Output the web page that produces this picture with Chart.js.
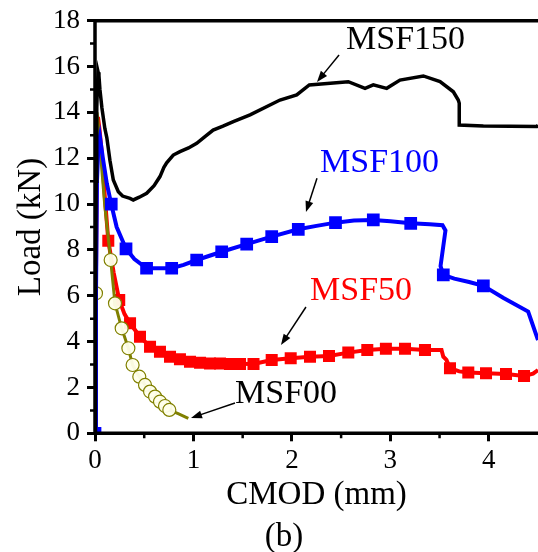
<!DOCTYPE html>
<html><head><meta charset="utf-8">
<script src="https://cdn.jsdelivr.net/npm/chart.js@4"></script>
<style>html,body{margin:0;padding:0;background:#fff;overflow:hidden;} #wrap{width:538px;height:552px;} canvas{display:block;}</style>
</head><body><div id="wrap"><canvas id="c" width="538" height="552"></canvas></div>
<script>
// ---- data ----
const xTicks = [0, 1, 2, 3, 4];
const yTicks = [0, 2, 4, 6, 8, 10, 12, 14, 16, 18];
const seriesNames = ['MSF150', 'MSF100', 'MSF50', 'MSF00'];

const msf150 = [[0,0],[0.005,5],[0.012,11],[0.018,14.2],[0.025,15.2],[0.032,15.75],[0.04,15.6],[0.05,15.0],[0.07,14.2],[0.1,13.3],[0.12,12.9],[0.152,11.9],[0.186,11.05],[0.237,10.54],[0.28,10.35],[0.356,10.25],[0.389,10.18],[0.45,10.3],[0.525,10.47],[0.6,10.8],[0.66,11.2],[0.7,11.6],[0.728,11.8],[0.795,12.14],[0.863,12.29],[0.95,12.45],[1.033,12.65],[1.12,12.95],[1.2,13.23],[1.3,13.4],[1.405,13.6],[1.575,13.89],[1.879,14.54],[2.049,14.76],[2.177,15.2],[2.573,15.34],[2.743,15.05],[2.827,15.2],[2.963,15.05],[3.098,15.41],[3.335,15.59],[3.505,15.34],[3.64,14.9],[3.69,14.54],[3.70,14.4],[3.70,13.45],[3.945,13.41],[4.487,13.38],[4.5,13.45]];

const msf100 = [[0,0],[0.01,6],[0.02,11],[0.035,12.6],[0.05,12.94],[0.08,12.0],[0.12,10.9],[0.165,10.0],[0.22,9.0],[0.27,8.5],[0.315,8.05],[0.4,7.6],[0.524,7.2],[0.65,7.2],[0.779,7.2],[0.9,7.35],[1.033,7.56],[1.287,7.92],[1.541,8.25],[1.795,8.58],[2.065,8.9],[2.25,9.05],[2.443,9.19],[2.63,9.28],[2.827,9.31],[3.0,9.25],[3.207,9.16],[3.4,9.12],[3.53,9.08],[3.56,8.85],[3.51,7.3],[3.538,6.91],[3.65,6.75],[3.8,6.6],[3.945,6.43],[4.15,5.9],[4.40,5.31],[4.5,4.07]];
const msf100Marks = [[0,0],[0.165,10.0],[0.315,8.05],[0.524,7.2],[0.779,7.2],[1.033,7.56],[1.287,7.92],[1.541,8.25],[1.795,8.58],[2.065,8.9],[2.443,9.19],[2.827,9.31],[3.207,9.16],[3.538,6.91],[3.945,6.43]];

const msf50 = [[0,0],[0.01,7],[0.02,12.5],[0.03,13.8],[0.045,13.3],[0.068,12.29],[0.1,10.3],[0.135,8.4],[0.19,7.0],[0.246,5.82],[0.3,5.2],[0.356,4.8],[0.457,4.21],[0.559,3.78],[0.66,3.56],[0.762,3.34],[0.863,3.23],[0.965,3.12],[1.2,3.05],[1.61,3.02],[1.795,3.2],[1.988,3.27],[2.184,3.34],[2.377,3.37],[2.573,3.52],[2.766,3.63],[2.955,3.69],[3.149,3.69],[3.352,3.63],[3.52,3.63],[3.538,3.34],[3.57,3.2],[3.606,2.84],[3.7,2.7],[3.792,2.65],[3.972,2.62],[4.175,2.59],[4.358,2.5],[4.45,2.6],[4.5,2.76]];
const msf50Marks = [[0.135,8.4],[0.246,5.82],[0.356,4.8],[0.457,4.21],[0.559,3.78],[0.66,3.56],[0.762,3.34],[0.863,3.23],[0.965,3.12],[1.067,3.08],[1.168,3.05],[1.27,3.05],[1.371,3.02],[1.473,3.02],[1.61,3.02],[1.795,3.2],[1.988,3.27],[2.184,3.34],[2.377,3.37],[2.573,3.52],[2.766,3.63],[2.955,3.69],[3.149,3.69],[3.352,3.63],[3.606,2.84],[3.792,2.65],[3.972,2.62],[4.175,2.59],[4.358,2.5]];

const msf00 = [[0,0],[0.005,6.1],[0.012,11],[0.02,14.0],[0.035,13.4],[0.06,12.0],[0.1,9.9],[0.159,7.56],[0.203,5.67],[0.271,4.58],[0.339,3.71],[0.382,2.98],[0.45,2.47],[0.508,2.11],[0.559,1.82],[0.61,1.6],[0.66,1.38],[0.711,1.19],[0.755,1.02],[0.85,0.85],[0.948,0.65]];
const msf00Marks = [[0.01,6.11],[0.159,7.56],[0.203,5.67],[0.271,4.58],[0.339,3.71],[0.382,2.98],[0.45,2.47],[0.508,2.11],[0.559,1.82],[0.61,1.6],[0.66,1.38],[0.711,1.19],[0.755,1.02]];

// ---- styles / annotation placement ----
const FONT = "'Liberation Serif', 'Times New Roman', serif";
const colors = {MSF150:'#000000', MSF100:'#0000ff', MSF50:'#ff0000', MSF00:'#808000'};
const notes = [
  {name:'MSF150', color:'#000', tx:2.55, ty:17.16, ax0:2.479, ay0:16.5, ax1:2.255, ay1:15.33},
  {name:'MSF100', color:'#0000ff', tx:2.286, ty:11.79, ax0:2.255, ay0:11.13, ax1:2.143, ay1:9.65},
  {name:'MSF50', color:'#ff0000', tx:2.184, ty:6.21, ax0:2.143, ay0:5.51, ax1:1.889, ay1:3.85},
  {name:'MSF00', color:'#000', tx:1.422, ty:1.72, ax0:1.422, ay0:1.32, ax1:0.975, ay1:0.67}
];

const pts = a => a.map(p => ({x:p[0], y:p[1]}));

const lineDs = (name, data, w) => ({label:name, data:pts(data), borderColor:colors[name], borderWidth:w, pointRadius:0, fill:false, tension:0, showLine:true});
const markDs = (name, data, style, r, bg, bw) => ({label:name+' markers', data:pts(data), showLine:false, pointStyle:style, pointRadius:r, pointBackgroundColor:bg, pointBorderColor:colors[name], pointBorderWidth:bw});

const framePlugin = {
  id:'frame',
  afterDatasetsDraw(chart){
    const {ctx, chartArea:{left,right,top,bottom}, scales:{x,y}} = chart;
    ctx.save();
    ctx.strokeStyle = '#000';
    ctx.lineWidth = 3.5;
    ctx.lineJoin = 'miter';
    ctx.beginPath();
    ctx.moveTo(right+4, top); ctx.lineTo(left, top); ctx.lineTo(left, bottom); ctx.lineTo(right+4, bottom);
    ctx.stroke();
    // minor ticks
    ctx.lineWidth = 2.5;
    ctx.beginPath();
    for (let v = 1; v < 18; v += 2){ const py = y.getPixelForValue(v); ctx.moveTo(left, py); ctx.lineTo(left-5, py); }
    for (let v = 0.5; v < 4.5; v += 1){ const px = x.getPixelForValue(v); ctx.moveTo(px, bottom); ctx.lineTo(px, bottom+5); }
    ctx.stroke();
    // annotations
    ctx.font = '34px ' + FONT;
    ctx.textBaseline = 'middle';
    ctx.textAlign = 'left';
    notes.forEach(n => {
      ctx.fillStyle = n.color;
      ctx.fillText(n.name, x.getPixelForValue(n.tx), y.getPixelForValue(n.ty));
      const x0 = x.getPixelForValue(n.ax0), y0 = y.getPixelForValue(n.ay0);
      const x1 = x.getPixelForValue(n.ax1), y1 = y.getPixelForValue(n.ay1);
      const ang = Math.atan2(y1-y0, x1-x0);
      const hl = 11, hw = 4;
      ctx.strokeStyle = '#000'; ctx.fillStyle = '#000'; ctx.lineWidth = 1.5;
      ctx.beginPath(); ctx.moveTo(x0,y0); ctx.lineTo(x1 - Math.cos(ang)*hl*0.8, y1 - Math.sin(ang)*hl*0.8); ctx.stroke();
      ctx.beginPath();
      ctx.moveTo(x1, y1);
      ctx.lineTo(x1 - Math.cos(ang)*hl - Math.sin(ang)*hw, y1 - Math.sin(ang)*hl + Math.cos(ang)*hw);
      ctx.lineTo(x1 - Math.cos(ang)*hl + Math.sin(ang)*hw, y1 - Math.sin(ang)*hl - Math.cos(ang)*hw);
      ctx.closePath(); ctx.fill();
    });
    // caption
    ctx.fillStyle = '#000';
    ctx.font = '33px ' + FONT;
    ctx.textAlign = 'center';
    ctx.fillText('(b)', 284, 537);
    ctx.restore();
  }
};

new Chart(document.getElementById('c'), {
  type:'scatter',
  data:{datasets:[
    lineDs('MSF150', msf150, 3.5),
    markDs('MSF100', msf100Marks, 'rect', 9, '#0000ff', 0),
    lineDs('MSF100', msf100, 4),
    markDs('MSF00', msf00Marks, 'circle', 6.5, 'rgba(255,255,235,0.95)', 1.2),
    lineDs('MSF00', msf00, 3),
    markDs('MSF50', msf50Marks, 'rect', 8.5, '#ff0000', 0),
    lineDs('MSF50', msf50, 4)
  ]},
  options:{
    responsive:false, animation:false,
    layout:{autoPadding:false, padding:{top:20.7, left:0, right:0, bottom:0}},
    plugins:{legend:{display:false}, tooltip:{enabled:false}},
    scales:{
      x:{type:'linear', min:0, max:4.5,
        afterBuildTicks:s => { s.ticks = xTicks.map(v => ({value:v})); },
        afterFit:s => { s.height = 118.7; s.paddingLeft = 0; s.paddingRight = 0; },
        grid:{display:true, drawOnChartArea:false, drawTicks:true, tickLength:8, tickWidth:3, tickColor:'#000'},
        border:{display:false},
        ticks:{autoSkip:false, maxRotation:0, padding:3, color:'#000', font:{family:FONT, size:27}},
        title:{display:true, text:'CMOD (mm)', color:'#000', font:{family:FONT, size:33}, padding:{top:0, bottom:37}}
      },
      y:{type:'linear', min:0, max:18,
        afterBuildTicks:s => { s.ticks = yTicks.map(v => ({value:v})); },
        afterFit:s => { s.width = 95; s.paddingTop = 0; s.paddingBottom = 0; },
        grid:{display:true, drawOnChartArea:false, drawTicks:true, tickLength:8, tickWidth:3, tickColor:'#000'},
        border:{display:false},
        ticks:{autoSkip:false, padding:7, color:'#000', font:{family:FONT, size:27}},
        title:{display:true, text:'Load (kN)', color:'#000', font:{family:FONT, size:33}, padding:{top:12, bottom:0}}
      }
    }
  },
  plugins:[framePlugin]
});
</script>
</body></html>
